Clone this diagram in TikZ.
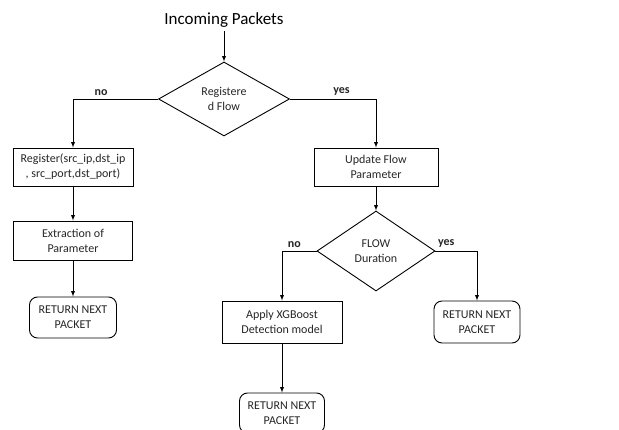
\documentclass[tikz,border=0pt]{standalone}
\usepackage{fontspec}
\setmainfont{Carlito}
\usetikzlibrary{shapes.geometric}

\begin{document}
\begin{tikzpicture}[x=1pt,y=-1pt,line width=0.9pt,>=latex,
    txt/.style={font=\fontsize{12}{15}\selectfont,align=center,text=black!85},
    procbox/.style={txt,draw,inner sep=0pt},
    retbox/.style={txt,draw,rounded corners=8pt,inner sep=0pt},
    decide/.style={txt,draw,diamond,inner sep=0pt},
    answer/.style={font=\fontsize{12}{14}\selectfont\bfseries,text=black!85}]
      \clip (0,0) rectangle (619,430);

      \node (title) at (224,20) {\fontsize{17}{20}\selectfont Incoming Packets};
      \node[decide,minimum width=131pt,minimum height=74pt] (reg) at (224,99)
        {Registere\\d Flow};

      % left branch
      \node[procbox,minimum width=120pt,minimum height=38pt] (register) at (73,167)
        {Register(src\_ip,dst\_ip\\, src\_port,dst\_port)};
      \node[procbox,minimum width=119pt,minimum height=39pt] (extract) at (73,240.5)
        {Extraction of\\Parameter};
      \node[retbox,minimum width=87pt,minimum height=41pt] (retA) at (73,317.5)
        {RETURN NEXT\\PACKET};

      % right branch
      \node[procbox,minimum width=124pt,minimum height=38pt] (update) at (376,167)
        {Update Flow\\Parameter};
      \node[decide,minimum width=118pt,minimum height=80pt] (dur) at (376,251)
        {FLOW\\Duration};
      \node[procbox,minimum width=120pt,minimum height=42pt] (apply) at (282,322)
        {Apply XGBoost\\Detection model};
      \node[retbox,minimum width=86pt,minimum height=42pt] (retB) at (477,322)
        {RETURN NEXT\\PACKET};
      \node[retbox,minimum width=85pt,minimum height=40pt] (retC) at (282,413)
        {RETURN NEXT\\PACKET};

      \draw[->] (title.south) -- (reg.north);
      \draw[->] (reg.west) -| node[answer,pos=0.335,above] {no} (register.north);
      \draw[->] (reg.east) -| node[answer,pos=0.3,above] {yes} (update.north);
      \draw[->] (register) -- (extract);
      \draw[->] (extract) -- (retA);
      \draw[->] (update) -- (dur);
      \draw[->] (dur.west) -| node[answer,pos=0.32,above] {no} (apply.north);
      \draw[->] (dur.east) -| node[answer,pos=0.13,above] {yes} (retB.north);
      \draw[->] (apply) -- (retC);
    \end{tikzpicture}
\end{document}
